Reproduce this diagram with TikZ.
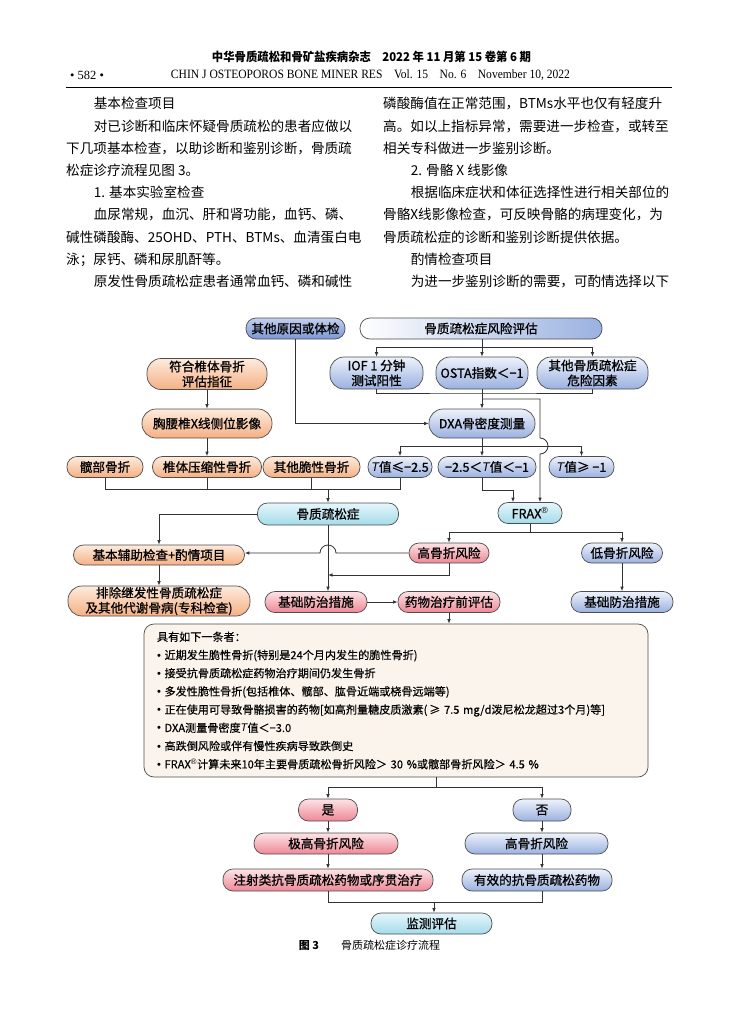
\documentclass[tikz,border=0pt]{standalone}
\usepackage{fontspec}
\usepackage{graphicx}
\usetikzlibrary{arrows.meta}
\setmainfont{Liberation Serif}
\newfontfamily\cjk{Noto Sans CJK SC}
\newfontface\cjkm[FakeBold=0.9]{Noto Sans CJK SC}
\newfontface\cjks[FakeBold=0.35]{Noto Sans CJK SC}
\newfontfamily\latsans{Liberation Sans}
\XeTeXlinebreaklocale "zh"
\XeTeXlinebreakskip=0pt plus 4pt

\definecolor{edge}{HTML}{4D4D4D}
\definecolor{lin}{HTML}{333333}
\definecolor{orgA}{HTML}{FEEBDC}
\definecolor{orgB}{HTML}{F4B084}
\definecolor{bluA}{HTML}{EEF2FB}
\definecolor{bluB}{HTML}{9AB1E0}
\definecolor{bluC}{HTML}{C3D0EE}
\definecolor{bluD}{HTML}{7A96D3}
\definecolor{cynA}{HTML}{E6F6FB}
\definecolor{cynB}{HTML}{A3DBEA}
\definecolor{redA}{HTML}{FDE3E6}
\definecolor{redB}{HTML}{EE8796}
\definecolor{cream}{HTML}{FBF4EC}

\newcommand\boxfont{\cjkm\fontsize{12.6}{15}\selectfont}
\newcommand\condfont{\cjks\fontsize{11.1}{18.2}\selectfont}
\newcommand\bodyfont{\cjk\fontsize{13.6}{16}\selectfont}
\newcommand\Tv{{\latsans\itshape T}}
\newcommand\reg{{\latsans\textsuperscript{®}}}
\newcommand\bul{{\latsans •}\ }
\newcommand\fl[1]{\makebox[289pt][s]{#1}}
\newcommand\il[1]{\makebox[261.4pt][s]{#1}}

\begin{document}
\begin{tikzpicture}[
  x=1pt,y=-1pt,
  box/.style={rectangle,rounded corners=10pt,draw=edge,line width=0.7pt,minimum height=21,inner sep=0pt,align=center,font=\boxfont},
  tall/.style={rounded corners=14pt},
  obox/.style={box,top color=orgA,bottom color=orgB},
  bbox/.style={box,top color=bluA,bottom color=bluB},
  cbox/.style={box,top color=cynA,bottom color=cynB},
  rbox/.style={box,top color=redA,bottom color=redB},
  ln/.style={draw=lin,line width=0.8pt},
  arc/.style={ln,-{Latex[length=4.5pt,width=3.6pt]}},
  txt/.style={anchor=base west,inner sep=0pt,font=\bodyfont}
]
  \fill[white] (0,0) rectangle (753,1024);
  \useasboundingbox (0,0) rectangle (753,1024);

  % running head
  \node[inner sep=0pt] (jt) at (371.5,57) {\resizebox{319pt}{10.5pt}{\cjk\bfseries 中华骨质疏松和骨矿盐疾病杂志\hspace{1em}2022 年 11 月第 15 卷第 6 期}};
  \node[inner sep=0pt,anchor=west] (pg) at (70,75) {\fontsize{12.5}{12}\selectfont • 582 •};
  \node[inner sep=0pt] (jn) at (370.5,75) {\resizebox{399pt}{8.8pt}{CHIN J OSTEOPOROS BONE MINER RES\hspace{1em}Vol. 15\hspace{1em}No. 6\hspace{1em}November 10, 2022}};
  \draw[line width=1pt] (66,88) -- (672,88);

  % two columns of text
  \node[txt] (l1) at (93.6,109) {基本检查项目};
  \node[txt] (l2) at (93.6,131.2) {\il{对已诊断和临床怀疑骨质疏松的患者应做以}};
  \node[txt] (l3) at (66,153.4) {\fl{下几项基本检查，以助诊断和鉴别诊断，骨质疏}};
  \node[txt] (l4) at (66,175.6) {松症诊疗流程见图 3。};
  \node[txt] (l5) at (93.6,197.8) {1. 基本实验室检查};
  \node[txt] (l6) at (93.6,220) {\il{血尿常规，血沉、肝和肾功能，血钙、磷、}};
  \node[txt] (l7) at (66,242.2) {\fl{碱性磷酸酶、25OHD、PTH、BTMs、血清蛋白电}};
  \node[txt] (l8) at (66,264.4) {泳；尿钙、磷和尿肌酐等。};
  \node[txt] (l9) at (93.6,286.6) {\il{原发性骨质疏松症患者通常血钙、磷和碱性}};
  \node[txt] (r1) at (383,109) {\fl{磷酸酶值在正常范围，BTMs水平也仅有轻度升}};
  \node[txt] (r2) at (383,131.2) {\fl{高。如以上指标异常，需要进一步检查，或转至}};
  \node[txt] (r3) at (383,153.4) {相关专科做进一步鉴别诊断。};
  \node[txt] (r4) at (410.6,175.6) {2. 骨骼 X 线影像};
  \node[txt] (r5) at (410.6,197.8) {\il{根据临床症状和体征选择性进行相关部位的}};
  \node[txt] (r6) at (383,220) {\fl{骨骼X线影像检查，可反映骨骼的病理变化，为}};
  \node[txt] (r7) at (383,242.2) {骨质疏松症的诊断和鉴别诊断提供依据。};
  \node[txt] (r8) at (410.6,264.4) {酌情检查项目};
  \node[txt] (r9) at (410.6,286.6) {\il{为进一步鉴别诊断的需要，可酌情选择以下}};

  % flow chart
  \node[bbox,top color=bluC,bottom color=bluD,minimum width=99] (oth) at (295.5,328.5) {其他原因或体检};
  \node[box,left color=white,right color=bluB,minimum width=242] (risk) at (481,328.5) {骨质疏松症风险评估};
  \node[bbox,tall,minimum width=93,minimum height=32] (iof) at (376.5,373) {IOF 1 分钟\\测试阳性};
  \node[bbox,tall,minimum width=92,minimum height=32] (osta) at (482,373) {OSTA指数＜−1};
  \node[bbox,tall,minimum width=111,minimum height=32] (rf) at (592.5,373) {其他骨质疏松症\\危险因素};
  \node[bbox,tall,minimum width=106,minimum height=29] (dxa) at (482,423.5) {DXA骨密度测量};
  \node[bbox,minimum width=64] (t1) at (400,467) {\Tv 值≤−2.5};
  \node[bbox,minimum width=98] (t2) at (487,467) {−2.5＜\Tv 值＜−1};
  \node[bbox,minimum width=65] (t3) at (581.5,467) {\Tv 值≥ −1};

  \node[obox,tall,minimum width=120,minimum height=31] (ind) at (207,374) {符合椎体骨折\\评估指征};
  \node[obox,tall,minimum width=130,minimum height=29] (xray) at (207,423.5) {胸腰椎X线侧位影像};
  \node[obox,minimum width=76] (hip) at (105,467) {髋部骨折};
  \node[obox,minimum width=109] (vert) at (207,467) {椎体压缩性骨折};
  \node[obox,minimum width=97] (frag) at (311.5,467) {其他脆性骨折};

  \node[cbox,minimum width=141,minimum height=22] (op) at (328,514) {骨质疏松症};
  \node[cbox,minimum width=64] (frax) at (530,513) {FRAX\reg};
  \node[obox,minimum width=171,minimum height=20] (aux) at (159,555) {基本辅助检查+酌情项目};
  \node[obox,tall,minimum width=182,minimum height=30] (excl) at (159,601) {排除继发性骨质疏松症\\及其他代谢骨病(专科检查)};
  \node[rbox,minimum width=80,minimum height=20] (hr) at (449,553) {高骨折风险};
  \node[bbox,minimum width=81,minimum height=20] (lr) at (622,553) {低骨折风险};
  \node[rbox,minimum width=102] (bm1) at (316,602) {基础防治措施};
  \node[rbox,minimum width=102] (pre) at (449,602) {药物治疗前评估};
  \node[bbox,minimum width=102] (bm2) at (622,602) {基础防治措施};

  \node[draw=edge,line width=0.7pt,fill=cream,rounded corners=10pt,minimum width=504,minimum height=153,
        text width=478,inner xsep=13pt,align=left,font=\condfont] (cond) at (396,700.5) {%
    具有如下一条者：\\
    \bul 近期发生脆性骨折(特别是24个月内发生的脆性骨折)\\
    \bul 接受抗骨质疏松症药物治疗期间仍发生骨折\\
    \bul 多发性脆性骨折(包括椎体、髋部、肱骨近端或桡骨远端等)\\
    \bul 正在使用可导致骨骼损害的药物[如高剂量糖皮质激素(\,≥ 7.5 mg/d泼尼松龙超过3个月)等]\\
    \bul DXA测量骨密度\Tv 值＜−3.0\\
    \bul 高跌倒风险或伴有慢性疾病导致跌倒史\\
    \bul FRAX\reg 计算未来10年主要骨质疏松骨折风险＞ 30 \%或髋部骨折风险＞ 4.5 \%};

  \node[rbox,minimum width=59,minimum height=22] (yes) at (328,810) {是};
  \node[bbox,minimum width=58,minimum height=22] (no) at (542,810) {否};
  \node[rbox,minimum width=144] (vhr) at (326,843.5) {极高骨折风险};
  \node[bbox,minimum width=143] (hr2) at (536.5,843.5) {高骨折风险};
  \node[rbox,minimum width=210,minimum height=22] (inj) at (328,880) {注射类抗骨质疏松药物或序贯治疗};
  \node[bbox,minimum width=150,minimum height=22] (eff) at (537,880) {有效的抗骨质疏松药物};
  \node[cbox,minimum width=121] (mon) at (431.5,923.5) {监测评估};

  \node (cap) at (369.5,945) {\cjk\fontsize{11}{11}\selectfont{\bfseries 图 3}\hspace{2em}骨质疏松症诊疗流程};

  % connectors
  \coordinate (rj) at (482,347);
  \draw[ln] (rj |- risk.south) -- (rj);
  \draw[arc] (rj) -| (iof.north);
  \draw[arc] (rj) -- (osta.north);
  \draw[arc] (rj) -| (rf.north);
  \coordinate (dj) at (482,393);
  \draw[ln] (iof.south) |- (dj) -| (rf.south);
  \draw[arc] (osta) -- (dxa);
  \draw[arc] (oth.south) |- (dxa.west);
  \coordinate (tj) at (482,446);
  \draw[ln] (dxa) -- (tj);
  \draw[arc] (tj) -| (t1.north);
  \draw[arc] (tj) -- (tj |- t2.north);
  \draw[arc] (tj) -| (t3.north);
  \coordinate (fj) at (482,399);
  \coordinate (hp) at (540,446);
  \draw[arc] (fj) -| (540,438) arc[start angle=-90,end angle=90,radius=8] -- (hp |- frax.north);
  \draw[arc] (tj |- t2.south) -- (482,490) -| ([xshift=-17pt]frax.north);

  \draw[arc] (ind) -- (xray);
  \draw[arc] (xray) -- (vert);
  \coordinate (oj) at (328,489);
  \draw[ln] (hip.south) |- (oj);
  \draw[ln] (t1.south) |- (oj);
  \draw[ln] (vert.south) -- (vert.south |- oj);
  \draw[ln] (frag.south) -- (frag.south |- oj);
  \draw[arc] (oj) -- (op.north);

  \draw[arc] (op.west) -| (aux.north);
  \draw[arc] (aux) -- (excl);
  \draw[arc] (op) -- (op |- bm1.north);
  \coordinate (xj) at (530,532);
  \draw[ln] (frax) -- (xj);
  \draw[arc] (xj) -| (hr.north);
  \draw[arc] (xj) -| (lr.north);
  \draw[arc] (hr.west) -- (336,553) arc[start angle=0,end angle=-180,radius=8] -- (aux.east |- hr.west);
  \coordinate (hj) at (328,575);
  \draw[arc] (hr.south) |- (hj);
  \draw[arc] (bm1) -- (pre);
  \draw[arc] (pre) -- (pre |- cond.north);
  \draw[arc] (lr) -- (bm2);

  \coordinate (cj) at (436,787);
  \draw[ln] (cond.south -| cj) -- (cj);
  \draw[arc] (cj) -| (yes.north);
  \draw[arc] (cj) -| (no.north);
  \draw[arc] (yes) -- (yes |- vhr.north);
  \draw[arc] (yes |- vhr.south) -- (yes |- inj.north);
  \draw[arc] (no) -- (no |- hr2.north);
  \draw[arc] (no |- hr2.south) -- (no |- eff.north);
  \coordinate (mj) at (434,902);
  \draw[ln] (yes |- inj.south) |- (mj);
  \draw[ln] (no |- eff.south) |- (mj);
  \draw[arc] (mj) -- (mj |- mon.north);
\end{tikzpicture}
\end{document}
